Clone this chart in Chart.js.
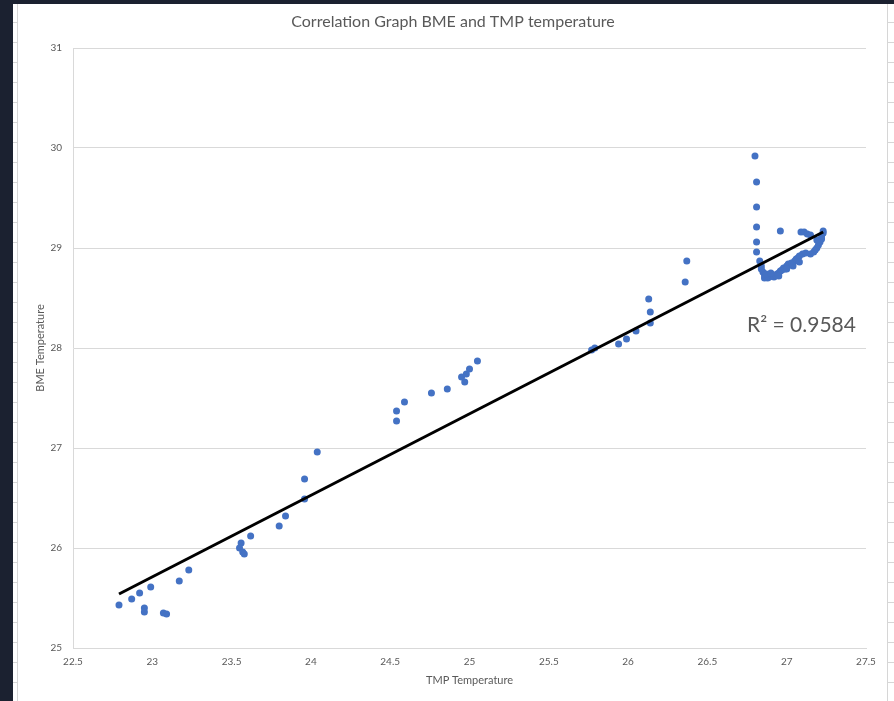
<!DOCTYPE html>
<html>
<head>
<meta charset="utf-8">
<script src="https://cdn.jsdelivr.net/npm/chart.js@4"></script>
<style>
  html, body { margin: 0; padding: 0; background: #ffffff; }
  #wrap { position: relative; width: 894px; height: 701px; overflow: hidden; background: #ffffff; }
  #c { position: absolute; left: 0; top: 0; }
  .dark { position: absolute; background: #1b2130; z-index: 2; }
  .vline { position: absolute; width: 1px; background: #d6d6d6; z-index: 2; }
  .tick { position: absolute; height: 1px; background: #d6d6d6; z-index: 2; }
</style>
</head>
<body>
<div id="wrap">
  <canvas id="c" width="894" height="701"></canvas>
  <div class="dark" style="left:0;top:0;width:894px;height:4px"></div>
  <div class="dark" style="left:0;top:0;width:13px;height:701px"></div>
  <div class="vline" style="left:17px;top:4px;height:697px"></div>
  <div class="vline" style="left:887px;top:4px;height:697px"></div>
  <div id="ticks"></div>
</div>
<script>
// ---- data ----
const tmpValues = [
  22.79, 22.87, 22.92, 22.99, 22.95, 22.95, 23.07, 23.09, 23.17, 23.23,
  23.56, 23.55, 23.57, 23.58, 23.62, 23.80, 23.84, 23.96, 23.96, 24.04,
  24.54, 24.54, 24.59, 24.76, 24.86, 24.97, 24.95, 24.98, 25.00, 25.05,
  25.77, 25.79, 25.94, 25.99, 26.05, 26.14, 26.14, 26.13, 26.36, 26.37,
  26.80, 26.81, 26.81, 26.81, 26.81, 26.81, 26.83,
  26.84, 26.84, 26.85, 26.86, 26.86, 26.88, 26.89, 26.91, 26.92, 26.93,
  26.94, 26.95, 26.96, 26.97, 26.98, 26.99, 27.00, 27.01, 27.02, 27.03,
  27.05, 27.06, 27.07, 27.08, 27.10, 27.15, 27.17, 27.18, 27.19, 27.20,
  27.21, 27.22, 27.22, 27.23, 27.23, 27.09, 27.11, 27.13, 27.15, 26.96,
  26.87, 26.90, 26.95, 27.00, 27.04, 27.08, 27.12, 27.19
];
const bmeValues = [
  25.43, 25.49, 25.55, 25.61, 25.40, 25.36, 25.35, 25.34, 25.67, 25.78,
  26.05, 26.00, 25.96, 25.94, 26.12, 26.22, 26.32, 26.49, 26.69, 26.96,
  27.27, 27.37, 27.46, 27.55, 27.59, 27.66, 27.71, 27.74, 27.79, 27.87,
  27.98, 28.00, 28.04, 28.09, 28.17, 28.25, 28.36, 28.49, 28.66, 28.87,
  29.92, 29.66, 29.41, 29.21, 29.06, 28.96, 28.87,
  28.82, 28.79, 28.76, 28.73, 28.70, 28.70, 28.71, 28.72, 28.71, 28.73,
  28.74, 28.75, 28.77, 28.78, 28.80, 28.79, 28.82, 28.84, 28.83, 28.85,
  28.87, 28.89, 28.90, 28.92, 28.94, 28.94, 28.96, 28.98, 29.00, 29.03,
  29.06, 29.09, 29.12, 29.15, 29.17, 29.16, 29.16, 29.14, 29.13, 29.17,
  28.74, 28.75, 28.72, 28.79, 28.82, 28.86, 28.95, 29.08
];
const trendX = [22.79, 27.23];
const trendY = [25.54, 29.16];
const xTickLabels = ['22.5', '23', '23.5', '24', '24.5', '25', '25.5', '26', '26.5', '27', '27.5'];
const yTickLabels = ['25', '26', '27', '28', '29', '30', '31'];
const chartTitle = 'Correlation Graph BME and TMP temperature';
const xTitle = 'TMP Temperature';
const yTitle = 'BME Temperature';
const r2Label = 'R\u00b2 = 0.9584';

// spreadsheet row ticks at page edges
(function () {
  const t = document.getElementById('ticks');
  let html = '';
  for (let y = 22; y < 701; y += 20) {
    html += '<div class="tick" style="left:13px;top:' + y + 'px;width:4px"></div>';
    html += '<div class="tick" style="left:887px;top:' + y + 'px;width:7px"></div>';
  }
  t.innerHTML = html;
})();

const points = tmpValues.map((x, i) => ({ x: x, y: bmeValues[i] }));
const trend = trendX.map((x, i) => ({ x: x, y: trendY[i] }));

const FONT = 'Lato, "Open Sans", sans-serif';
const GREY = '#595959';

const overlay = {
  id: 'overlay',
  afterDraw(chart) {
    const ctx = chart.ctx;
    ctx.save();
    ctx.fillStyle = GREY;
    ctx.textAlign = 'center';
    ctx.textBaseline = 'middle';
    ctx.font = '16px ' + FONT;
    ctx.fillText(chartTitle, 453, 22);
    ctx.textAlign = 'left';
    ctx.font = '21px ' + FONT;
    const yPix = chart.scales.y.getPixelForValue(28.23);
    ctx.fillText(r2Label, 747, yPix);
    ctx.restore();
  }
};

new Chart(document.getElementById('c'), {
  type: 'scatter',
  data: {
    datasets: [
      {
        type: 'line',
        data: trend,
        borderColor: '#000000',
        borderWidth: 3,
        pointRadius: 0,
        fill: false,
        order: 0
      },
      {
        data: points,
        backgroundColor: '#4472C4',
        borderColor: '#4472C4',
        pointRadius: 3.5,
        pointHoverRadius: 3.5,
        borderWidth: 0,
        order: 1
      }
    ]
  },
  options: {
    responsive: false,
    animation: false,
    events: [],
    layout: { padding: { top: 48, right: 28, left: 0, bottom: 0 } },
    plugins: { legend: { display: false }, tooltip: { enabled: false }, title: { display: false } },
    scales: {
      x: {
        type: 'linear',
        min: 22.5, max: 27.5,
        afterBuildTicks(scale) {
          scale.ticks = xTickLabels.map(v => ({ value: parseFloat(v) }));
        },
        afterFit(scale) { scale.height = 53; },
        ticks: {
          color: GREY,
          font: { family: FONT, size: 10 },
          padding: 8,
          maxRotation: 0,
          autoSkip: false,
          callback: (v, i) => xTickLabels[i]
        },
        grid: { display: false, drawTicks: false },
        border: { display: true, color: '#d9d9d9', width: 1 },
        title: {
          display: true, text: xTitle, color: GREY,
          font: { family: FONT, size: 11 },
          padding: { top: 0, bottom: 14.4 }
        }
      },
      y: {
        type: 'linear',
        min: 25, max: 31,
        afterBuildTicks(scale) {
          scale.ticks = yTickLabels.map(v => ({ value: parseFloat(v) }));
        },
        afterFit(scale) { scale.width = 73; },
        ticks: {
          color: GREY,
          font: { family: FONT, size: 10 },
          padding: 11,
          autoSkip: false,
          callback: (v, i) => yTickLabels[i]
        },
        grid: { display: true, drawTicks: false, color: '#d9d9d9', lineWidth: 1 },
        border: { display: true, color: '#d9d9d9', width: 1 },
        title: {
          display: true, text: yTitle, color: GREY,
          font: { family: FONT, size: 11 },
          padding: { top: 33.4, bottom: 0 }
        }
      }
    }
  },
  plugins: [overlay]
});
</script>
</body>
</html>
